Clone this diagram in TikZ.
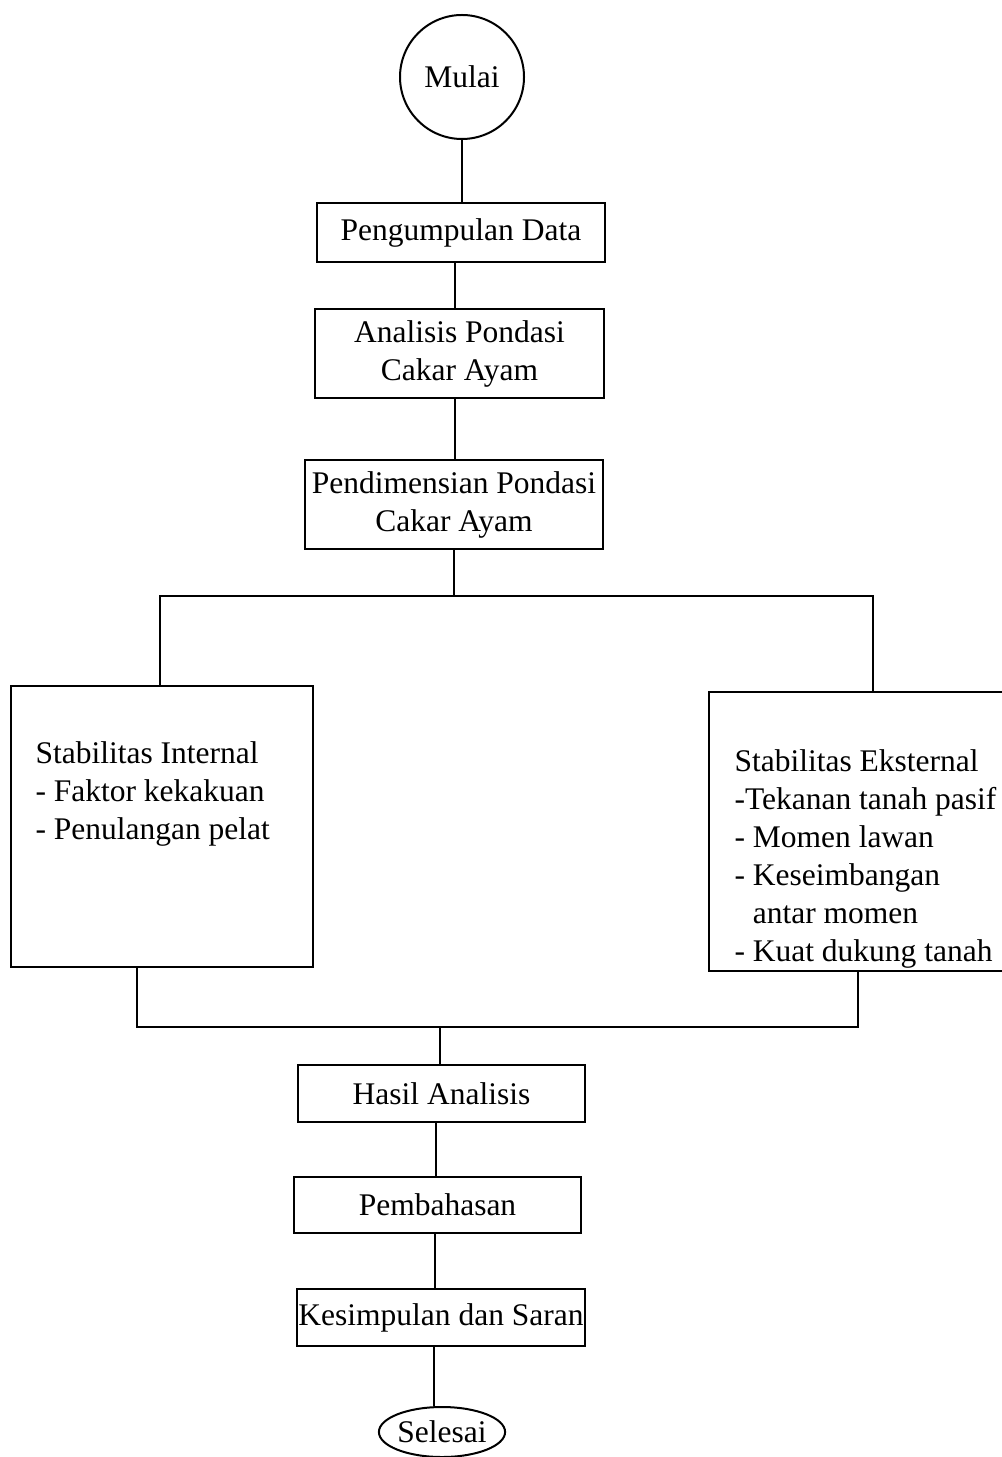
\documentclass[tikz,border=0pt]{standalone}
\usepackage{fontspec}
\setmainfont{Liberation Serif}
\usetikzlibrary{shapes.geometric}
\begin{document}
\begin{tikzpicture}[x=0.4pt,y=-0.4pt,
  every node/.style={font=\fontsize{12.6}{15.2}\selectfont},
  stepbox/.style={draw,line width=0.8pt,inner sep=0pt,align=center},
  txt/.style={inner sep=0pt,align=left,anchor=north west},
  conn/.style={line width=0.8pt}]
\useasboundingbox (0,0) rectangle (1001,1457);
\node[draw,circle,line width=0.8pt,minimum size=49.6pt,inner sep=0pt] (mulai) at (462,77) {Mulai};
\node[stepbox,minimum width=115.2pt,minimum height=23.6pt] (pd) at (461,232.5) {Pengumpulan Data};
\node[stepbox,minimum width=115.6pt,minimum height=35.6pt] (ap) at (459.5,353.5) {Analisis Pondasi\\Cakar Ayam};
\node[stepbox,minimum width=119.2pt,minimum height=35.6pt] (pdm) at (454,504.5) {Pendimensian Pondasi\\Cakar Ayam};
\node[stepbox,minimum width=120.8pt,minimum height=112.4pt] (si) at (162,826.5) {};
\node[stepbox,minimum width=121.2pt,minimum height=111.6pt] (se) at (860.5,831.5) {};
\node[txt] (sit) at (35,741) {Stabilitas Internal\\- Faktor kekakuan\\- Penulangan pelat};
\node[txt] (set) at (734,749) {Stabilitas Eksternal\\-Tekanan tanah pasif\\- Momen lawan\\- Keseimbangan\\\phantom{-} antar momen\\- Kuat dukung tanah};
\node[stepbox,minimum width=114.8pt,minimum height=22.8pt] (ha) at (441.5,1093.5) {Hasil Analisis};
\node[stepbox,minimum width=114.8pt,minimum height=22.4pt] (pb) at (437.5,1205) {Pembahasan};
\node[stepbox,minimum width=115.2pt,minimum height=22.8pt] (ks) at (441,1317.5) {Kesimpulan dan Saran};
\node[draw,ellipse,line width=0.8pt,minimum width=47.2pt,minimum height=20pt,inner sep=0pt] (sel) at (442,1432) {Selesai};
% connectors
\draw[conn] (mulai.south) -- (mulai.south |- pd.north);
\draw[conn] (pd.south -| 455,0) coordinate (c1) -- (c1 |- ap.north);
\draw[conn] (ap.south -| 455,0) coordinate (c2) -- (c2 |- pdm.north);
\coordinate (jt) at (454,596);
\coordinate (jl) at (160,596);
\coordinate (jr) at (873,596);
\draw[conn] (pdm.south) -- (jt);
\draw[conn] (jl |- si.north) -- (jl) -- (jr) -- (jr |- se.north);
\coordinate (bl) at (137,1027);
\coordinate (br) at (858,1027);
\coordinate (bm) at (440,1027);
\draw[conn] (bl |- si.south) -- (bl) -- (br) -- (br |- se.south);
\draw[conn] (bm) -- (bm |- ha.north);
\draw[conn] (ha.south -| 436,0) coordinate (c3) -- (c3 |- pb.north);
\draw[conn] (pb.south -| 435,0) coordinate (c4) -- (c4 |- ks.north);
\draw[conn] (ks.south -| 434,0) coordinate (c5) -- (c5 |- sel.north);
\end{tikzpicture}
\end{document}
